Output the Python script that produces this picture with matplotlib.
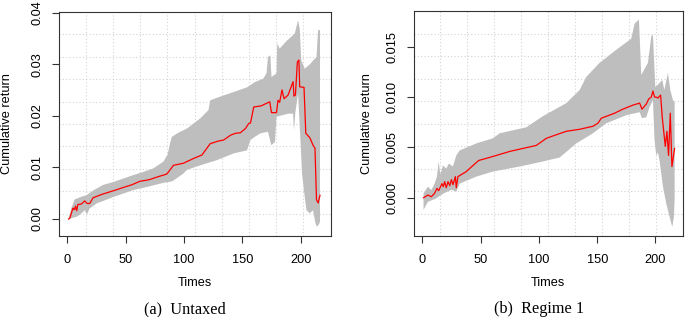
import numpy as np
import matplotlib
matplotlib.use('Agg')
import matplotlib.pyplot as plt

# ---- данные: (a) Untaxed ----
a_t = [1, 2, 4.8, 6, 7, 8, 9, 12, 14.9, 16.9, 19.2, 22, 30, 40, 47.9, 55, 62.2, 70, 78,
       85.2, 88, 91, 99.5, 108, 115.4, 122.5, 129.6, 134, 139.7, 144, 148.3, 152.6, 155.5,
       157, 159.8, 166, 173.5, 175, 179.3, 180.6, 182, 184, 185.8, 189.2, 193.5, 194.3,
       195.5, 197.2, 198.5, 199.2, 202.9, 204.4, 208, 210.6, 212.3, 213.6, 215, 216.6]
a_mean = [0.0, 0.0001, 0.0021, 0.0018, 0.0025, 0.0016, 0.0028, 0.0029, 0.0035, 0.0030,
          0.0030, 0.0041, 0.0048, 0.0055, 0.0061, 0.0066, 0.0073, 0.0076, 0.0082, 0.0087,
          0.0095, 0.0104, 0.0108, 0.0117, 0.0124, 0.0146, 0.0151, 0.0153, 0.0162, 0.0166,
          0.0167, 0.0175, 0.0185, 0.0186, 0.0217, 0.0219, 0.0227, 0.0206, 0.0206, 0.0230,
          0.0226, 0.0250, 0.0233, 0.0240, 0.0266, 0.0238, 0.0240, 0.0304, 0.0308, 0.0256,
          0.0255, 0.0166, 0.0157, 0.0143, 0.0137, 0.0037, 0.0031, 0.0046]

a_up_t = [1, 3.4, 6.3, 12, 16.3, 22, 30.7, 40, 56.5, 65, 73.7, 82.3, 86, 88, 89.5, 95,
          102.4, 114, 121, 122.5, 131, 142.6, 154, 160.6, 168, 170.7, 172, 174, 175, 179.3,
          180, 182, 188, 194.9, 197.8, 199.2, 200.5, 203.5, 208, 213.6, 215, 216.6]
a_up = [0.0, 0.0021, 0.0038, 0.0043, 0.0046, 0.0055, 0.0066, 0.0072, 0.0085, 0.0091,
        0.0098, 0.0111, 0.0125, 0.0146, 0.0159, 0.0167, 0.0175, 0.0195, 0.0211, 0.0230,
        0.0237, 0.0246, 0.0255, 0.0265, 0.0272, 0.0282, 0.0314, 0.0317, 0.0275, 0.0282,
        0.0340, 0.0330, 0.0345, 0.0359, 0.0385, 0.0369, 0.0308, 0.0291, 0.0300, 0.0314,
        0.0366, 0.0366]

a_lo_t = [1, 7.7, 10.6, 15, 16.5, 17.5, 19, 25, 40, 56.5, 70, 82.3, 90, 99.5, 102.4, 114,
          128.3, 142.6, 154, 157, 160.6, 165.6, 172, 174.8, 178, 179.3, 189.2, 193.5, 194.3,
          195.5, 197.8, 200, 201.2, 203.5, 205, 207.8, 210.6, 212.7, 214, 215.8, 216.6]
a_lo = [0.0, 0.0004, 0.0008, 0.0017, 0.0009, 0.0012, 0.0020, 0.0030, 0.0043, 0.0056,
        0.0063, 0.0070, 0.0073, 0.0088, 0.0095, 0.0104, 0.0114, 0.0127, 0.0133, 0.0153,
        0.0159, 0.0166, 0.0169, 0.0143, 0.0149, 0.0198, 0.0204, 0.0204, 0.0172, 0.0207,
        0.0243, 0.0146, 0.0088, 0.0043, 0.0017, 0.0011, 0.0017, -0.0008, -0.0015, -0.0010,
        -0.0005]

# ---- данные: (b) Regime 1 ----
b_t = [1, 4.8, 7.7, 10.5, 12.5, 14, 16.8, 18, 19.1, 20.5, 22, 23.5, 24.9, 26.3, 28.3, 29.1,
       30.5, 37.7, 40.5, 48.3, 60.5, 74.9, 97.8, 106.3, 113.5, 123.5, 134.9, 146.3, 150.6,
       153.5, 164.9, 172, 180.6, 186.4, 188.4, 192.1, 194.1, 196.4, 197.8, 199.2, 200.7,
       202.1, 204.4, 205.8, 208.4, 209.8, 211.2, 212.7, 214.1, 216.4]
b_mean = [0.0, 0.00027, 0.0001, 0.00044, 0.00093, 0.0007, 0.0014, 0.0011, 0.0016, 0.0010,
          0.0016, 0.0012, 0.0018, 0.0013, 0.0021, 0.0010, 0.0021, 0.0026, 0.0029, 0.0037,
          0.0041, 0.0046, 0.0052, 0.0059, 0.0062, 0.0066, 0.0068, 0.0071, 0.0074, 0.0079,
          0.0084, 0.0088, 0.0092, 0.0094, 0.0088, 0.0093, 0.0098, 0.0100, 0.0106, 0.0100,
          0.0100, 0.0099, 0.0102, 0.0080, 0.0051, 0.0066, 0.0042, 0.0084, 0.0031, 0.0049]

b_up_t = [1, 4.8, 7.7, 10.5, 12.5, 14, 15.4, 17.7, 20.5, 22.8, 26.2, 29.1, 32, 46.3, 60.5,
          66.3, 89.2, 103.4, 123.5, 134.9, 140.6, 152, 166.4, 179.2, 182.1, 185.8, 186.8,
          187.8, 193.5, 196.4, 197.8, 199.8, 203.5, 205.8, 207.6, 210.7, 212.7, 215, 216.4]
b_up = [0.00044, 0.0011, 0.00076, 0.0014, 0.0021, 0.0036, 0.0023, 0.0032, 0.0029, 0.0034,
        0.0031, 0.0042, 0.0047, 0.0054, 0.0059, 0.0064, 0.0070, 0.0081, 0.0094, 0.0107,
        0.0120, 0.0134, 0.0147, 0.0158, 0.0173, 0.0177, 0.0150, 0.0122, 0.0134, 0.0160,
        0.0162, 0.0110, 0.0114, 0.0117, 0.0107, 0.0124, 0.0107, 0.0097, 0.0095]

b_lo_t = [1, 4.8, 11.4, 17.7, 24.9, 29.1, 32, 46.3, 60.5, 83.4, 103.4, 117.8, 132.1, 146.3,
          157.8, 175, 186.4, 188.4, 192.1, 194.9, 197.8, 199.2, 200.7, 202.1, 203.5, 206.4,
          209.3, 212.1, 214.4, 215.8, 216.4]
b_lo = [-0.0012, -0.0004, -0.0001, 0.0004, 0.0008, 0.0006, 0.0014, 0.0021, 0.0026, 0.0031,
        0.0036, 0.0040, 0.0054, 0.0064, 0.0074, 0.0082, 0.0085, 0.0079, 0.0080, 0.0090,
        0.0097, 0.0057, 0.0042, 0.0045, 0.0037, 0.0011, -0.0006, -0.0019, -0.0029, -0.0019,
        -0.0002]

a_yticks = [0.0, 0.01, 0.02, 0.03, 0.04]
a_ylabels = ['0.00', '0.01', '0.02', '0.03', '0.04']
b_yticks = [0.0, 0.005, 0.010, 0.015]
b_ylabels = ['0.000', '0.005', '0.010', '0.015']
xticks = [0, 50, 100, 150, 200]

plt.rcParams['font.family'] = ['Liberation Sans', 'DejaVu Sans']

W, H = 685, 317
fig = plt.figure(figsize=(W / 100, H / 100), dpi=100)


def panel(rect_px, xlim, ylim, t, m, ut, u, lt, l, yticks, ylabels, ylab_x, caption, cap_x):
    x0, y0, x1, y1 = rect_px
    ax = fig.add_axes([x0 / W, 1 - y1 / H, (x1 - x0) / W, (y1 - y0) / H])
    ax.set_xlim(xlim)
    ax.set_ylim(ylim)
    # сетка как grid(10, 10) в R
    for gx in np.linspace(xlim[0], xlim[1], 11)[1:-1]:
        ax.axvline(gx, color='#d3d3d3', lw=0.8, ls=(0, (1, 2)), zorder=0)
    for gy in np.linspace(ylim[0], ylim[1], 11)[1:-1]:
        ax.axhline(gy, color='#d3d3d3', lw=0.8, ls=(0, (1, 2)), zorder=0)
    # полоса
    px = np.concatenate([ut, lt[::-1]])
    py = np.concatenate([u, l[::-1]])
    ax.fill(px, py, color='#bebebe', lw=0, zorder=1)
    ax.plot(t, m, color='red', lw=0.9, zorder=2)

    ax.set_xticks(xticks)
    ax.set_yticks(yticks)
    ax.set_yticklabels(ylabels, rotation=90, va='center')
    ax.tick_params(length=5, width=0.8, labelsize=9.2, color='#333333', pad=6)
    ax.tick_params(axis='x', pad=8)
    for s in ax.spines.values():
        s.set_linewidth(0.8)
        s.set_color('#333333')

    cx = (x0 + x1) / 2 / W
    fig.text(cx, 1 - 283 / H, 'Times', ha='center', va='center', fontsize=9.2)
    fig.text(ylab_x / W, 1 - (y0 + y1) / 2 / H, 'Cumulative return', rotation=90,
             ha='center', va='center', fontsize=9.2)
    fig.text(cap_x / W, 1 - 309 / H, caption, ha='center', va='center', fontsize=11.7,
             family=['Liberation Serif', 'DejaVu Serif'])
    return ax


panel((58.5, 12, 330.5, 236), (-7.6, 225.6), (-0.0033, 0.0401),
      a_t, a_mean, a_up_t, a_up, a_lo_t, a_lo, a_yticks, a_ylabels, 7, '(a)  Untaxed', 185)
panel((413.5, 11, 683, 236), (-7.6, 223.6), (-0.0038, 0.01855),
      b_t, b_mean, b_up_t, b_up, b_lo_t, b_lo, b_yticks, b_ylabels, 367, '(b)  Regime 1', 539)

plt.savefig('out.png', dpi=100)
